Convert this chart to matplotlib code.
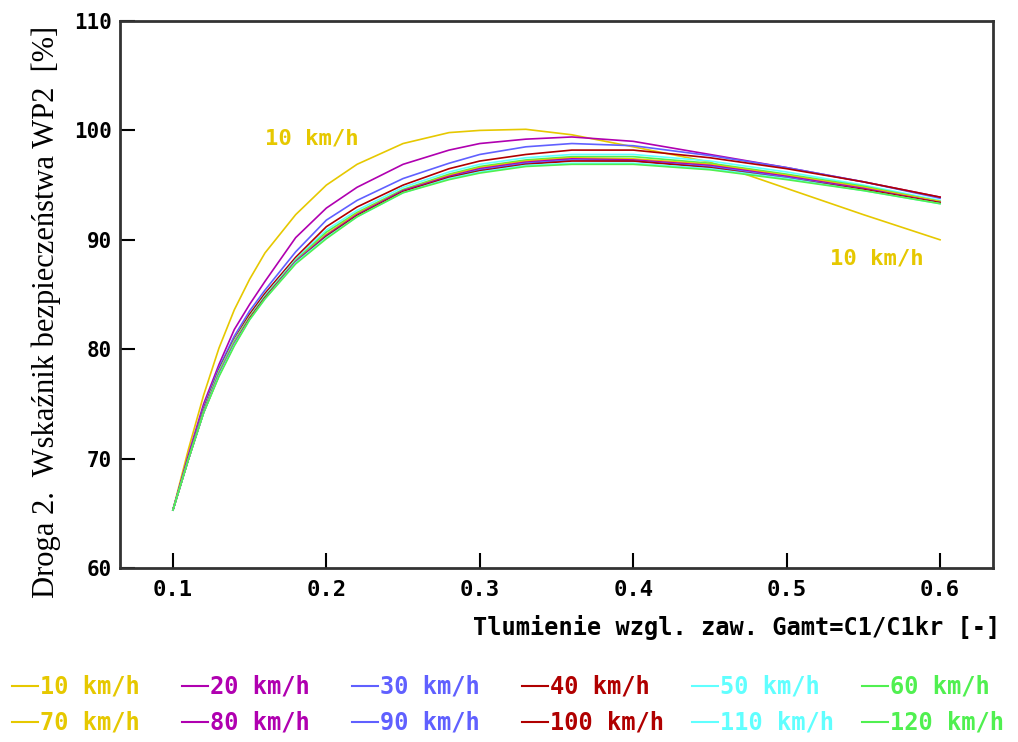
import matplotlib
matplotlib.use('Agg')
import matplotlib.pyplot as plt
from matplotlib.lines import Line2D

# Gamt values (x) and WP2 [%] for each speed
gamt = [0.10, 0.11, 0.12, 0.13, 0.14, 0.15, 0.16, 0.18, 0.20, 0.22,
        0.25, 0.28, 0.30, 0.33, 0.36, 0.40, 0.45, 0.50, 0.55, 0.60]

wp_10 = [65.3, 70.8, 75.8, 80.1, 83.6, 86.4, 88.8, 92.3, 95.0, 96.9,
         98.8, 99.8, 100.0, 100.1, 99.6, 98.5, 97.1, 94.7, 92.3, 90.0]
wp_20 = [65.3, 70.3, 75.0, 78.6, 81.8, 84.1, 86.2, 90.2, 92.9, 94.8,
         96.9, 98.2, 98.8, 99.2, 99.4, 99.0, 97.8, 96.6, 95.3, 93.9]
wp_30 = [65.3, 70.1, 74.7, 78.3, 81.2, 83.5, 85.4, 88.9, 91.8, 93.6,
         95.6, 97.0, 97.8, 98.5, 98.8, 98.6, 97.7, 96.6, 95.3, 93.8]
wp_40 = [65.3, 70.0, 74.5, 78.1, 80.9, 83.2, 85.1, 88.4, 91.2, 93.0,
         95.0, 96.5, 97.2, 97.8, 98.2, 98.2, 97.5, 96.5, 95.3, 93.9]
wp_50 = [65.3, 69.9, 74.4, 78.0, 80.8, 83.0, 84.9, 88.2, 90.9, 92.7,
         94.8, 96.2, 96.9, 97.5, 97.8, 97.8, 97.2, 96.2, 95.0, 93.6]
wp_60 = [65.3, 69.9, 74.3, 77.9, 80.7, 82.9, 84.8, 88.1, 90.7, 92.5,
         94.6, 96.0, 96.7, 97.3, 97.6, 97.6, 97.0, 96.0, 94.9, 93.5]
wp_70 = [65.3, 69.9, 74.3, 77.8, 80.6, 82.9, 84.7, 88.0, 90.5, 92.4,
         94.5, 95.9, 96.6, 97.2, 97.5, 97.4, 96.9, 95.9, 94.8, 93.5]
wp_80 = [65.3, 69.9, 74.3, 77.7, 80.5, 82.8, 84.7, 88.0, 90.4, 92.3,
         94.5, 95.8, 96.5, 97.1, 97.4, 97.3, 96.8, 95.8, 94.7, 93.4]
wp_90 = [65.3, 69.9, 74.2, 77.7, 80.5, 82.8, 84.7, 87.9, 90.3, 92.2,
         94.4, 95.7, 96.4, 97.0, 97.3, 97.2, 96.7, 95.7, 94.6, 93.4]
wp_100 = [65.3, 69.9, 74.2, 77.6, 80.4, 82.8, 84.7, 87.9, 90.3, 92.2,
          94.4, 95.7, 96.3, 96.9, 97.2, 97.2, 96.6, 95.6, 94.6, 93.4]
wp_110 = [65.3, 69.9, 74.2, 77.6, 80.4, 82.7, 84.6, 87.9, 90.2, 92.1,
          94.3, 95.6, 96.2, 96.8, 97.0, 97.0, 96.5, 95.6, 94.5, 93.3]
wp_120 = [65.3, 69.9, 74.2, 77.5, 80.3, 82.7, 84.6, 87.8, 90.1, 92.1,
          94.3, 95.5, 96.1, 96.7, 96.9, 96.9, 96.4, 95.5, 94.5, 93.3]

labels = ['10 km/h', '20 km/h', '30 km/h', '40 km/h', '50 km/h', '60 km/h',
          '70 km/h', '80 km/h', '90 km/h', '100 km/h', '110 km/h', '120 km/h']
series = [wp_10, wp_20, wp_30, wp_40, wp_50, wp_60,
          wp_70, wp_80, wp_90, wp_100, wp_110, wp_120]
palette = ['#e6c800', '#b000b0', '#6060ff', '#b00000', '#60ffff', '#50f050']
colors = palette + palette

xticks = [0.1, 0.2, 0.3, 0.4, 0.5, 0.6]
yticks = [60, 70, 80, 90, 100, 110]

mono = 'DejaVu Sans Mono'

fig = plt.figure(figsize=(10.18, 7.42), dpi=100)
ax = fig.add_axes([120 / 1018, 1 - 568 / 742, 873 / 1018, 547 / 742])

for vals, c in zip(series, colors):
    ax.plot(gamt, vals, color=c, lw=1.2)

ax.set_xlim(0.0655, 0.6345)
ax.set_ylim(60, 110)
ax.set_xticks(xticks)
ax.set_yticks(yticks)
ax.set_xticklabels(['%.1f' % t for t in xticks], fontfamily=mono, fontweight='bold', fontsize=16)
ax.set_yticklabels([str(t) for t in yticks], fontfamily=mono, fontweight='bold', fontsize=15)
ax.tick_params(axis='x', direction='in', length=11, width=1.5, pad=9)
ax.tick_params(axis='y', direction='in', length=11, width=1.5, pad=6)
for s in ax.spines.values():
    s.set_linewidth(2)
    s.set_color('#333333')

ax.text(0.16, 99.3, '10 km/h', color=palette[0], fontfamily=mono, fontweight='bold',
        fontsize=16, va='center')
ax.text(0.528, 88.3, '10 km/h', color=palette[0], fontfamily=mono, fontweight='bold',
        fontsize=16, va='center')

fig.text(1000 / 1018, 1 - 628 / 742, 'Tlumienie wzgl. zaw. Gamt=C1/C1kr [-]',
         ha='right', va='center', fontfamily=mono, fontweight='bold', fontsize=17)
fig.text(46 / 1018, 1 - 312 / 742, 'Droga 2.  Wskaźnik bezpieczeństwa WP2  [%]',
         rotation=90, ha='center', va='center', fontfamily='Liberation Serif', fontsize=22)

# legend, two rows of six
for i, (lab, c) in enumerate(zip(labels, colors)):
    col, row = i % 6, i // 6
    x0 = (12 + 170 * col) / 1018
    y0 = 1 - (686 + 36 * row) / 742
    fig.add_artist(Line2D([x0, x0 + 26 / 1018], [y0, y0], color=c, lw=1.5,
                          transform=fig.transFigure))
    fig.text(x0 + 28 / 1018, y0, lab, color=c, fontfamily=mono, fontweight='bold',
             fontsize=17, va='center')

fig.savefig('out.png', dpi=100)
